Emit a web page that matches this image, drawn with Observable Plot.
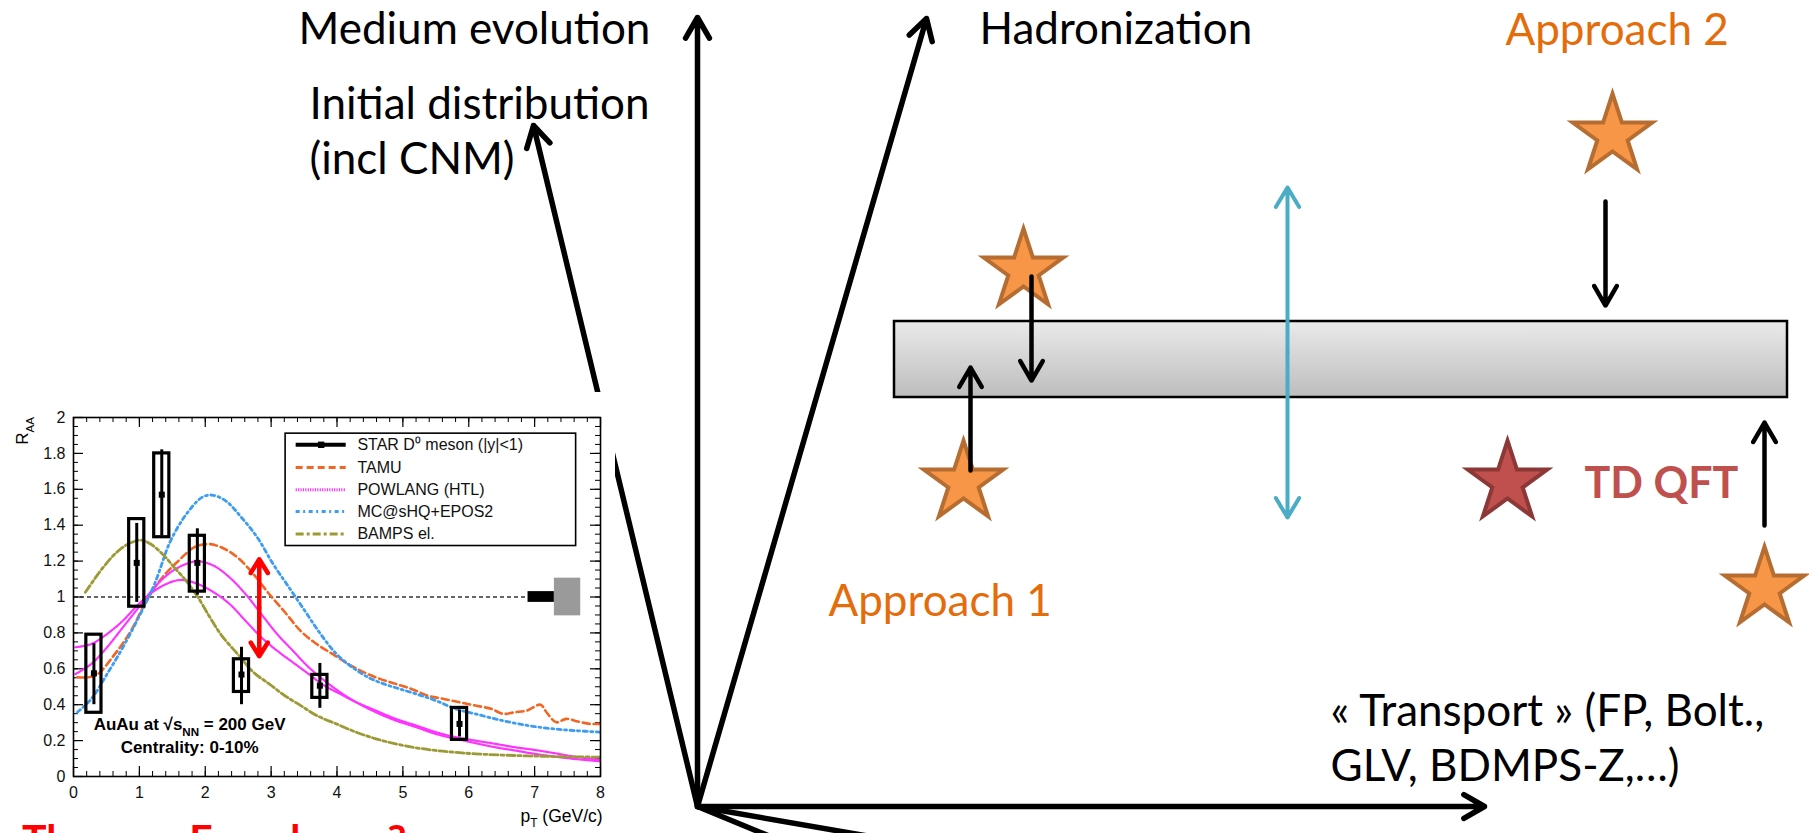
<!DOCTYPE html>
<html>
<head>
<meta charset="utf-8">
<script src="https://cdn.jsdelivr.net/npm/d3@7"></script>
<script src="https://cdn.jsdelivr.net/npm/@observablehq/plot@0.6"></script>
<style>
  html, body { margin: 0; padding: 0; background: #fff; }
  #slide { position: relative; width: 1809px; height: 833px; overflow: hidden; background: #fff; }
  #diagram { position: absolute; left: 0; top: 0; }
  #inset { position: absolute; left: 0; top: 392px; }
  #caption { position: absolute; left: 22px; top: 814px; font-family: Lato, sans-serif; font-weight: 700;
             font-size: 41px; color: #FF0000; white-space: nowrap; line-height: normal; }
  svg { display: block; }
</style>
</head>
<body>
<div id="slide">
  <div id="diagram"></div>
  <div id="inset"></div>
  <div id="caption">Theory « Error bar » ?</div>
</div>
<script>
// ---------------- Inset chart data (R_AA vs pT) ----------------
const xTicks = [0, 1, 2, 3, 4, 5, 6, 7, 8];
const yTicks = [0, 0.2, 0.4, 0.6, 0.8, 1, 1.2, 1.4, 1.6, 1.8, 2];
const xMinorTicks = d3.ticks(0, 8, 40);
const yMinorTicks = d3.ticks(0, 2, 40);

const starPt   = [0.31, 0.96, 1.34, 1.88, 2.55, 3.74, 5.86];
const starRaa  = [0.575, 1.19, 1.57, 1.19, 0.568, 0.506, 0.293];
const statLow  = [0.40, 0.97, 1.34, 1.01, 0.40, 0.38, 0.22];
const statHigh = [0.74, 1.41, 1.82, 1.38, 0.72, 0.63, 0.37];
const sysLow   = [0.355, 0.946, 1.333, 1.03, 0.471, 0.438, 0.204];
const sysHigh  = [0.79, 1.434, 1.80, 1.341, 0.653, 0.566, 0.382];
const sysHalfWidth = 0.115;

const tamu = [[0.06,0.553],[0.33,0.562],[0.63,0.683],[0.87,0.81],[1.11,0.98],[1.35,1.11],[1.59,1.20],[1.83,1.276],[2.04,1.295],[2.25,1.276],[2.49,1.22],[2.73,1.128],[2.97,1.017],[3.21,0.915],[3.45,0.81],[3.69,0.738],[3.93,0.683],[4.17,0.627],[4.41,0.58],[4.65,0.544],[4.89,0.516],[5.13,0.488],[5.38,0.45],[5.62,0.432],[5.86,0.414],[6.10,0.395],[6.34,0.377],[6.52,0.349],[6.70,0.358],[6.88,0.367],[7.09,0.40],[7.18,0.358],[7.33,0.302],[7.48,0.321],[7.66,0.306],[7.84,0.293],[7.99,0.293]];
const mcshq = [[0.06,0.358],[0.27,0.432],[0.51,0.571],[0.75,0.72],[0.99,0.887],[1.23,1.072],[1.47,1.31],[1.71,1.46],[1.95,1.555],[2.10,1.568],[2.31,1.536],[2.55,1.443],[2.79,1.332],[3.03,1.184],[3.27,1.054],[3.51,0.924],[3.75,0.794],[3.99,0.683],[4.23,0.609],[4.47,0.553],[4.71,0.516],[4.95,0.488],[5.20,0.46],[5.50,0.423],[5.80,0.377],[6.10,0.349],[6.40,0.321],[6.70,0.297],[7.00,0.278],[7.30,0.265],[7.60,0.256],[7.99,0.247]];
const powlangA = [[0.03,0.72],[0.27,0.738],[0.51,0.794],[0.75,0.868],[0.99,0.961],[1.23,1.035],[1.47,1.082],[1.65,1.095],[1.89,1.072],[2.13,1.026],[2.37,0.961],[2.61,0.868],[2.85,0.776],[3.09,0.701],[3.33,0.636],[3.57,0.571],[3.81,0.506],[4.05,0.46],[4.29,0.414],[4.59,0.367],[4.89,0.321],[5.20,0.284],[5.50,0.247],[5.80,0.219],[6.10,0.20],[6.40,0.182],[6.70,0.163],[7.00,0.148],[7.30,0.13],[7.60,0.111],[7.99,0.093]];
const powlangB = [[0.03,0.571],[0.27,0.627],[0.51,0.72],[0.75,0.831],[0.99,0.942],[1.23,1.054],[1.47,1.137],[1.71,1.184],[1.89,1.199],[2.13,1.174],[2.37,1.109],[2.61,1.017],[2.85,0.905],[3.09,0.794],[3.33,0.701],[3.57,0.609],[3.81,0.534],[4.05,0.469],[4.29,0.414],[4.59,0.358],[4.89,0.312],[5.20,0.275],[5.50,0.237],[5.80,0.21],[6.10,0.186],[6.40,0.163],[6.70,0.145],[7.00,0.126],[7.30,0.111],[7.60,0.098],[7.99,0.085]];
const bamps = [[0.18,1.026],[0.30,1.09],[0.45,1.165],[0.63,1.24],[0.81,1.291],[1.02,1.317],[1.17,1.295],[1.35,1.24],[1.53,1.165],[1.71,1.09],[1.89,0.998],[2.07,0.887],[2.25,0.785],[2.49,0.683],[2.73,0.581],[2.97,0.516],[3.21,0.45],[3.45,0.395],[3.69,0.34],[3.99,0.293],[4.29,0.247],[4.59,0.21],[4.89,0.182],[5.20,0.16],[5.50,0.145],[5.80,0.135],[6.10,0.126],[6.70,0.117],[7.30,0.111],[7.99,0.108]];

const legendLabels = ["STAR D⁰ meson (|y|<1)", "TAMU", "POWLANG (HTL)", "MC@sHQ+EPOS2", "BAMPS el."];
const legendRows   = [1.848, 1.722, 1.598, 1.477, 1.351];
const legendBox    = {x1: 3.22, x2: 7.63, y1: 1.284, y2: 1.91};
const legendSample = {x1: 3.38, x2: 4.14, text: 4.31};

const normGlobal = {x1: 6.9, x2: 7.3, y1: 0.97, y2: 1.03};
const normSys    = {x1: 7.3, x2: 7.7, y1: 0.895, y2: 1.105};
const theorySpread = {x: 2.82, mid: 0.94, top: 1.21, bottom: 0.67};

const models = [
  {name: "TAMU", data: [tamu], color: "#F26522", dash: "7,4", width: 2.6},
  {name: "POWLANG (HTL)", data: [powlangA, powlangB], color: "#FF33FF", dash: "1.2,1.2", width: 2.2},
  {name: "MC@sHQ+EPOS2", data: [mcshq], color: "#3C9DF2", dash: "4,3.5,2,3.5", width: 2.8},
  {name: "BAMPS el.", data: [bamps], color: "#9C9A35", dash: "8,3,3,3", width: 2.8}
];

// ---------------- Diagram data ----------------
const axisArrows = [
  {name: "Medium evolution", x1: 697, y1: 806, x2: 697, y2: 17},
  {name: "Hadronization", x1: 697, y1: 806, x2: 926, y2: 18},
  {name: "Initial distribution", x1: 697, y1: 806, x2: 533, y2: 125},
  {name: "Transport", x1: 697, y1: 806, x2: 1484, y2: 806}
];
const axisRays = [
  {x1: 697, y1: 806, x2: 925, y2: 900},
  {x1: 697, y1: 806, x2: 1239, y2: 900}
];
const band = [{x1: 894, x2: 1787, y1: 321, y2: 397}];
const stars = [
  {x: 1023, y: 270, fill: "#F79646", stroke: "#B66D31"},
  {x: 963, y: 482, fill: "#F79646", stroke: "#B66D31"},
  {x: 1612, y: 135, fill: "#F79646", stroke: "#B66D31"},
  {x: 1764, y: 588, fill: "#F79646", stroke: "#B66D31"},
  {x: 1507, y: 482, fill: "#C0504D", stroke: "#8C3836"}
];
const starArrows = [
  {x1: 1031, y1: 276, x2: 1031, y2: 380},
  {x1: 970, y1: 470, x2: 970, y2: 367},
  {x1: 1605, y1: 201, x2: 1605, y2: 305},
  {x1: 1764, y1: 525, x2: 1764, y2: 422}
];
const spreadArrows = [
  {x1: 1287, y1: 352, x2: 1287, y2: 187},
  {x1: 1287, y1: 352, x2: 1287, y2: 517}
];
const diagramLabels = [
  {text: "Medium evolution", x: 298, y: 43, color: "#000000"},
  {text: "Initial distribution", x: 309, y: 118, color: "#000000"},
  {text: "(incl CNM)", x: 309, y: 173, color: "#000000"},
  {text: "Hadronization", x: 979, y: 43, color: "#000000"},
  {text: "Approach 2", x: 1505, y: 44, color: "#E46C0A"},
  {text: "Approach 1", x: 828, y: 615, color: "#E46C0A"},
  {text: "« Transport » (FP, Bolt.,", x: 1330, y: 725, color: "#000000"},
  {text: "GLV, BDMPS-Z,…)", x: 1330, y: 780, color: "#000000"}
];
const boldLabels = [{text: "TD QFT", x: 1584, y: 497, color: "#C0504D"}];

// ---------------- helpers ----------------
const NS = "http://www.w3.org/2000/svg";
function richText(parts, xv, yv, {anchor = "start", size = 16, weight = "normal", rotate = 0, fill = "black"} = {}) {
  return (index, scales) => {
    const t = document.createElementNS(NS, "text");
    t.setAttribute("transform", `translate(${scales.x(xv)},${scales.y(yv)}) rotate(${rotate})`);
    t.setAttribute("text-anchor", anchor);
    t.setAttribute("font-size", size);
    t.setAttribute("font-weight", weight);
    t.setAttribute("fill", fill);
    let shift = 0;
    for (const p of parts) {
      const s = document.createElementNS(NS, "tspan");
      const target = p.sub ? 0.32 * size : 0;
      s.setAttribute("font-size", p.sub ? size * 0.68 : size);
      const dy = target - shift;
      shift = target;
      if (dy) s.setAttribute("dy", dy);
      s.textContent = p.t;
      t.appendChild(s);
    }
    return t;
  };
}
function gradientDefs() {
  const defs = document.createElementNS(NS, "defs");
  const g = document.createElementNS(NS, "linearGradient");
  g.setAttribute("id", "bandGrad");
  g.setAttribute("x1", "0"); g.setAttribute("y1", "0"); g.setAttribute("x2", "0"); g.setAttribute("y2", "1");
  [["0", "#EAEAEA"], ["1", "#BDBDBD"]].forEach(([o, c]) => {
    const s = document.createElementNS(NS, "stop");
    s.setAttribute("offset", o); s.setAttribute("stop-color", c);
    g.appendChild(s);
  });
  defs.appendChild(g);
  return defs;
}

// ---------------- Diagram plot ----------------
const diagram = Plot.plot({
  width: 1809, height: 833,
  margin: 0,
  x: {domain: [0, 1809], range: [0, 1809], axis: null},
  y: {domain: [0, 833], range: [0, 833], axis: null},
  color: {type: "identity"},
  style: {background: "white", overflow: "hidden", fontFamily: "Lato, sans-serif"},
  marks: [
    () => gradientDefs(),
    Plot.link(axisRays, {x1: "x1", y1: "y1", x2: "x2", y2: "y2", stroke: "black", strokeWidth: 5.5}),
    Plot.arrow(axisArrows, {x1: "x1", y1: "y1", x2: "x2", y2: "y2", stroke: "black", strokeWidth: 5.5, headLength: 6.5, headAngle: 60}),
    Plot.rect(band, {x1: "x1", x2: "x2", y1: "y1", y2: "y2", fill: "url(#bandGrad)", stroke: "black", strokeWidth: 2.5}),
    Plot.arrow(spreadArrows, {x1: "x1", y1: "y1", x2: "x2", y2: "y2", stroke: "#4BACC6", strokeWidth: 4, headLength: 8.5, headAngle: 62}),
    Plot.dot(stars, {x: "x", y: "y", symbol: "star", r: 25, fill: (d) => d.fill, stroke: (d) => d.stroke, strokeWidth: 4}),
    Plot.arrow(starArrows, {x1: "x1", y1: "y1", x2: "x2", y2: "y2", stroke: "black", strokeWidth: 4.5, headLength: 7.5, headAngle: 60}),
    Plot.text(diagramLabels, {x: "x", y: "y", text: "text", fill: "color", textAnchor: "start", lineAnchor: "bottom", fontSize: 44, fontFamily: "Lato, sans-serif"}),
    Plot.text(boldLabels, {x: "x", y: "y", text: "text", fill: "color", textAnchor: "start", lineAnchor: "bottom", fontSize: 43, fontWeight: 700, fontFamily: "Lato, sans-serif"})
  ]
});
document.getElementById("diagram").append(diagram);

// ---------------- Inset plot ----------------
const starRows = starPt.map((x, i) => ({x, y: starRaa[i], sl: statLow[i], sh: statHigh[i], bl: sysLow[i], bh: sysHigh[i]}));
const majX = 10 / 65.9, minX = 5 / 65.9, majY = 10 / 179.5, minY = 5 / 179.5;

const curveMarks = [];
models.forEach((m) => {
  m.data.forEach((series) => {
    curveMarks.push(Plot.line(series, {x: (d) => d[0], y: (d) => d[1], stroke: m.color, strokeWidth: m.width, strokeDasharray: m.dash, curve: "catmull-rom", clip: true}));
  });
});
const legendMarks = [
  Plot.rect([legendBox], {x1: "x1", x2: "x2", y1: "y1", y2: "y2", fill: "white", stroke: "black", strokeWidth: 1.6}),
  Plot.ruleY([legendRows[0]], {x1: legendSample.x1, x2: legendSample.x2, stroke: "black", strokeWidth: 4}),
  Plot.dot([legendRows[0]], {x: (legendSample.x1 + legendSample.x2) / 2, y: (d) => d, symbol: "square", r: 3.6, fill: "black"}),
  ...models.map((m, i) => Plot.ruleY([legendRows[i + 1]], {x1: legendSample.x1, x2: legendSample.x2, stroke: m.color, strokeWidth: 3, strokeDasharray: m.dash})),
  Plot.text(legendLabels.map((label, i) => ({label, y: legendRows[i]})), {x: legendSample.text, y: "y", text: "label", textAnchor: "start", fontSize: 16, fill: "#111"})
];

const inset = Plot.plot({
  width: 615, height: 441,
  marginLeft: 73, marginRight: 15, marginTop: 25, marginBottom: 57,
  x: {domain: [0, 8]},
  y: {domain: [0, 2]},
  style: {background: "white", overflow: "visible", fontFamily: "'Liberation Sans', Arial, sans-serif", color: "#111"},
  marks: [
    // inward tick marks on all four sides
    Plot.ruleX(xMinorTicks, {y1: 0, y2: minY, stroke: "black", strokeWidth: 1}),
    Plot.ruleX(xTicks, {y1: 0, y2: majY, stroke: "black", strokeWidth: 1.2}),
    Plot.ruleX(xMinorTicks, {y1: 2 - minY, y2: 2, stroke: "black", strokeWidth: 1}),
    Plot.ruleX(xTicks, {y1: 2 - majY, y2: 2, stroke: "black", strokeWidth: 1.2}),
    Plot.ruleY(yMinorTicks, {x1: 0, x2: minX, stroke: "black", strokeWidth: 1}),
    Plot.ruleY(yTicks, {x1: 0, x2: majX, stroke: "black", strokeWidth: 1.2}),
    Plot.ruleY(yMinorTicks, {x1: 8 - minX, x2: 8, stroke: "black", strokeWidth: 1}),
    Plot.ruleY(yTicks, {x1: 8 - majX, x2: 8, stroke: "black", strokeWidth: 1.2}),
    Plot.axisX({ticks: xTicks, tickSize: 0, tickPadding: 10, fontSize: 16, label: null}),
    Plot.axisY({ticks: yTicks, tickSize: 0, tickPadding: 8, fontSize: 16, label: null, tickFormat: (d) => d3.format("~g")(d)}),
    // reference line at unity with normalisation boxes
    Plot.ruleY([1], {x1: 0, x2: normGlobal.x1, stroke: "#333", strokeWidth: 1.3, strokeDasharray: "4,3"}),
    Plot.rect([normGlobal], {x1: "x1", x2: "x2", y1: "y1", y2: "y2", fill: "black"}),
    Plot.rect([normSys], {x1: "x1", x2: "x2", y1: "y1", y2: "y2", fill: "#9A9A9A"}),
    // model curves
    ...curveMarks,
    // STAR data
    Plot.rect(starRows, {x1: (d) => d.x - sysHalfWidth, x2: (d) => d.x + sysHalfWidth, y1: "bl", y2: "bh", fill: "none", stroke: "black", strokeWidth: 3.2}),
    Plot.ruleX(starRows, {x: "x", y1: "sl", y2: "sh", stroke: "black", strokeWidth: 3}),
    Plot.dot(starRows, {x: "x", y: "y", symbol: "square", r: 3.4, fill: "black"}),
    // theory spread arrow
    Plot.arrow([{y2: theorySpread.top}, {y2: theorySpread.bottom}], {x1: theorySpread.x, x2: theorySpread.x, y1: theorySpread.mid, y2: "y2", stroke: "#FF0000", strokeWidth: 4.5, headLength: 7.5, headAngle: 64}),
    ...legendMarks,
    richText([{t: "AuAu at √s"}, {t: "NN", sub: true}, {t: " = 200 GeV"}], 1.77, 0.255, {anchor: "middle", size: 17, weight: "bold"}),
    richText([{t: "Centrality: 0-10%"}], 1.77, 0.13, {anchor: "middle", size: 17, weight: "bold"}),
    richText([{t: "R"}, {t: "AA", sub: true}], -0.68, 2.0, {anchor: "end", size: 17, rotate: -90}),
    richText([{t: "p"}, {t: "T", sub: true}, {t: " (GeV/c)"}], 8.04, -0.255, {anchor: "end", size: 17.5}),
    Plot.frame({stroke: "black", strokeWidth: 1.6})
  ]
});
document.getElementById("inset").append(inset);
</script>
</body>
</html>
